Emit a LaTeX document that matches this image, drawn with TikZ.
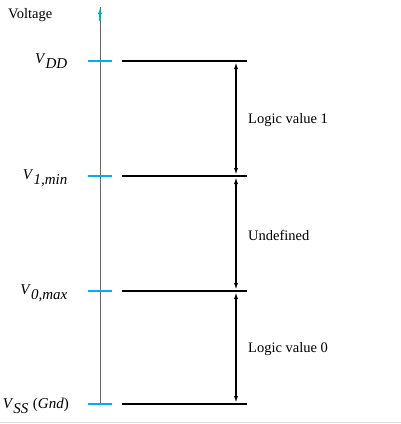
\documentclass[tikz,border=0pt]{standalone}
\usepackage{fontspec}
\setmainfont{Liberation Serif}
\newfontfamily\timesfont{Liberation Serif}
\usetikzlibrary{arrows.meta}
\begin{document}
\begin{tikzpicture}[x=1pt, y=-1pt,
        level/.style={draw, line width=1.6pt},
        tick/.style={draw=cyan, line width=1.6pt},
        axis/.style={draw=gray!80!black, line width=0.9pt},
        span/.style={{Latex[length=7pt,width=4pt]}-{Latex[length=7pt,width=4pt]}, line width=1.6pt, shorten >=1pt, shorten <=1pt},
        vlabel/.style={anchor=east, inner sep=0pt, font=\timesfont\fontsize{15}{17}\selectfont},
        rangelabel/.style={anchor=west, inner sep=0pt, font=\timesfont\fontsize{14.5}{17}\selectfont}
    ]
    \useasboundingbox (0,0) rectangle (401,424);

    % --- Axis ---
    \coordinate (axisbot) at (100,404);
    \coordinate (axistop) at (100,7);
    \draw[axis] (axisbot) -- (axistop);
    \draw[draw=teal!60!cyan, line width=2pt, -{Latex[length=7pt,width=4pt]}] (100,21) -- (axistop);
    \node[anchor=west, inner sep=0pt, font=\timesfont\fontsize{14.5}{17}\selectfont] (voltage) at (8,15) {Voltage};

    % --- Levels ---
    \foreach \name/\yy in {vdd/61, vih/176, vil/291, vss/404} {
        \draw[tick] (88,\yy) -- (112,\yy);
        \coordinate (\name-l) at (122,\yy);
        \coordinate (\name-r) at (247,\yy);
        \coordinate (\name-a) at (236,\yy);
        \draw[level] (\name-l) -- (\name-r);
    }

    \node[vlabel] (lvdd) at (68,61) {\textit{V}$_{\textit{DD}}$};
    \node[vlabel] (lvih) at (68,178) {\textit{V}$_{\textit{1,min}}$};
    \node[vlabel] (lvil) at (68,293) {\textit{V}$_{\textit{0,max}}$};
    \node[vlabel] (lvss) at (69,406) {\textit{V}$_{\textit{SS}}$\hspace{4pt}(\textit{Gnd})};

    % --- Ranges ---
    \draw[span] (vdd-a) -- (vih-a);
    \draw[span] (vih-a) -- (vil-a);
    \draw[span] (vil-a) -- (vss-a);
    \node[rangelabel] (logic1) at (248,120) {Logic value 1};
    \node[rangelabel] (undef) at (248,235) {Undefined};
    \node[rangelabel] (logic0) at (248,349) {Logic value 0};

    % --- Frame ---
    \draw[gray!25, line width=1pt] (0,422.5) -- (401,422.5);
\end{tikzpicture}
\end{document}
